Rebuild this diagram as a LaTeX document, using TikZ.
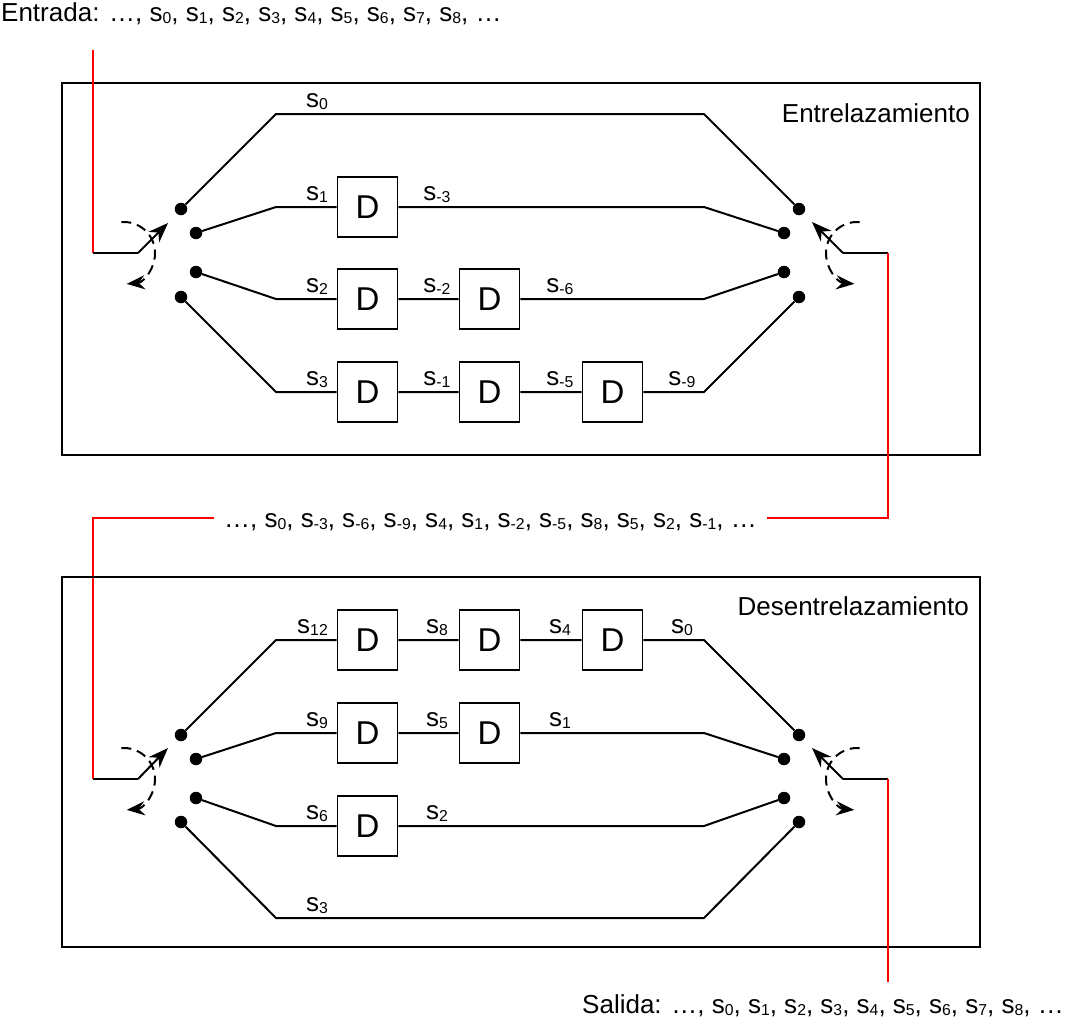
\documentclass[tikz,border=0pt]{standalone}
\usepackage{fontspec}
\setmainfont{Liberation Sans}
\usepackage{tikz}
\usetikzlibrary{arrows.meta}

\newcommand{\sx}[1]{\raisebox{-2pt}{\fontsize{15.8}{18}\selectfont #1}}

\begin{document}
\begin{tikzpicture}[x=1pt, y=-1pt]
\tikzset{
    every node/.style={inner sep=0pt, font=\fontsize{26}{30}\selectfont},
    wire/.style={line width=2pt},
    feed/.style={line width=2.6pt, red},
    frame/.style={draw, line width=1.6pt},
    delay/.style={draw, line width=1.8pt, minimum size=60pt, font=\fontsize{33}{36}\selectfont},
    pin/.style={circle, fill, minimum size=12.5pt},
    lever/.style={line width=2pt, -{Stealth[length=20pt, width=15pt]}},
    turn/.style={line width=2pt, dash pattern=on 10pt off 6pt, -{Stealth[length=18pt, width=14pt]}},
    first/.style={anchor=base east},
    later/.style={anchor=base}
}
\useasboundingbox (0,0) rectangle (1068,1028);

\node[anchor=base west] (inp) at (1,21) {Entrada: …, s\sx{0}, s\sx{1}, s\sx{2}, s\sx{3}, s\sx{4}, s\sx{5}, s\sx{6}, s\sx{7}, s\sx{8}, …};

\draw[frame] (62,83) rectangle (980,455);
\node[anchor=base east] (etl) at (970,122) {Entrelazamiento};

\foreach \i/\x/\y in {1/181/209, 2/196/233, 3/196/272, 4/181/297} {
    \node[pin] (ep\i) at (\x,\y) {};
    \node[pin] (eq\i) at (980-\x,\y) {};
}
\foreach \i/\y in {1/114, 2/207, 3/299, 4/392} {
    \coordinate (ea\i) at (276,\y);
    \coordinate (eb\i) at (704,\y);
}
\foreach \n/\x/\y in {21/367.5/207, 31/367.5/299, 32/489.5/299, 41/367.5/392, 42/489.5/392, 43/612.5/392}
    \node[delay] (ed\n) at (\x,\y) {D};

\draw[wire] (ep1) -- (ea1) -- (eb1) -- (eq1);
\draw[wire] (ep2) -- (ea2) -- (ed21) -- (eb2) -- (eq2);
\draw[wire] (ep3) -- (ea3) -- (ed31) -- (ed32) -- (eb3) -- (eq3);
\draw[wire] (ep4) -- (ea4) -- (ed41) -- (ed42) -- (ed43) -- (eb4) -- (eq4);

\node[first] (es0) at (328,107.5) {s\sx{0}};
\node[first] (es1) at (328,200.5) {s\sx{1}};
\node[later] (esm3) at (437,200.5) {s\sx{-3}};
\node[first] (es2) at (328,292.5) {s\sx{2}};
\node[later] (esm2) at (437,292.5) {s\sx{-2}};
\node[later] (esm6) at (560,292.5) {s\sx{-6}};
\node[first] (es3) at (328,385.5) {s\sx{3}};
\node[later] (esm1) at (437,385.5) {s\sx{-1}};
\node[later] (esm5) at (560,385.5) {s\sx{-5}};
\node[later] (esm9) at (682,385.5) {s\sx{-9}};

\coordinate (etop) at (93,50);
\coordinate (ec) at (93,253);
\coordinate (eo) at (138,253);
\coordinate (et) at (168,223);
\coordinate (ek) at (124,253);
\draw[feed] (etop) -- (ec);
\draw[wire] (ec) -- (eo);
\draw[lever] (eo) -- (et);
\draw[turn] ([shift={(95:31pt)}]ek) arc[start angle=95, end angle=-85, radius=31pt];

\coordinate (eor) at (843,253);
\coordinate (etr) at (812,222);
\coordinate (ekr) at (857,253);
\coordinate (ecr) at (888,253);
\draw[wire] (eor) -- (ecr);
\draw[lever] (eor) -- (etr);
\draw[turn] ([shift={(85:31pt)}]ekr) arc[start angle=85, end angle=265, radius=31pt];

\node[anchor=base, inner xsep=10pt] (mid) at (490.5,527) {…, s\sx{0}, s\sx{-3}, s\sx{-6}, s\sx{-9}, s\sx{4}, s\sx{1}, s\sx{-2}, s\sx{-5}, s\sx{8}, s\sx{5}, s\sx{2}, s\sx{-1}, …};
\coordinate (mr) at (888,518);
\coordinate (ml) at (93,518);
\coordinate (dc) at (93,779);
\draw[feed] (ecr) -- (mr) -- (mr -| mid.east);
\draw[feed] (ml -| mid.west) -- (ml) -- (dc);

\draw[frame] (62,577) rectangle (980,947);
\node[anchor=base east] (dtl) at (969,615) {Desentrelazamiento};

\foreach \i/\x/\y in {1/181/735, 2/196/759, 3/196/798, 4/181/822} {
    \node[pin] (dp\i) at (\x,\y) {};
    \node[pin] (dq\i) at (980-\x,\y) {};
}
\foreach \i/\y in {1/640, 2/733, 3/826, 4/918} {
    \coordinate (da\i) at (276,\y);
    \coordinate (db\i) at (704,\y);
}
\foreach \n/\x/\y in {11/367.5/640, 12/489.5/640, 13/612.5/640, 21/367.5/733, 22/489.5/733, 31/367.5/826}
    \node[delay] (dd\n) at (\x,\y) {D};

\draw[wire] (dp1) -- (da1) -- (dd11) -- (dd12) -- (dd13) -- (db1) -- (dq1);
\draw[wire] (dp2) -- (da2) -- (dd21) -- (dd22) -- (db2) -- (dq2);
\draw[wire] (dp3) -- (da3) -- (dd31) -- (db3) -- (dq3);
\draw[wire] (dp4) -- (da4) -- (db4) -- (dq4);

\node[first] (ds12) at (328,633.5) {s\sx{12}};
\node[later] (ds8) at (437,633.5) {s\sx{8}};
\node[later] (ds4) at (560,633.5) {s\sx{4}};
\node[later] (ds0) at (682,633.5) {s\sx{0}};
\node[first] (ds9) at (328,726.5) {s\sx{9}};
\node[later] (ds5) at (437,726.5) {s\sx{5}};
\node[later] (ds1) at (560,726.5) {s\sx{1}};
\node[first] (ds6) at (328,819.5) {s\sx{6}};
\node[later] (ds2) at (437,819.5) {s\sx{2}};
\node[first] (ds3) at (328,911.5) {s\sx{3}};

\coordinate (do) at (138,779);
\coordinate (dt) at (168,748);
\coordinate (dk) at (124,779);
\draw[wire] (dc) -- (do);
\draw[lever] (do) -- (dt);
\draw[turn] ([shift={(95:31pt)}]dk) arc[start angle=95, end angle=-85, radius=31pt];

\coordinate (dor) at (843,779);
\coordinate (dtr) at (812,748);
\coordinate (dkr) at (857,779);
\coordinate (dcr) at (888,779);
\coordinate (dbot) at (888,982);
\draw[wire] (dor) -- (dcr);
\draw[lever] (dor) -- (dtr);
\draw[turn] ([shift={(85:31pt)}]dkr) arc[start angle=85, end angle=265, radius=31pt];
\draw[feed] (dcr) -- (dbot);

\node[anchor=base west] (outp) at (582,1013) {Salida: …, s\sx{0}, s\sx{1}, s\sx{2}, s\sx{3}, s\sx{4}, s\sx{5}, s\sx{6}, s\sx{7}, s\sx{8}, …};
\end{tikzpicture}
\end{document}
